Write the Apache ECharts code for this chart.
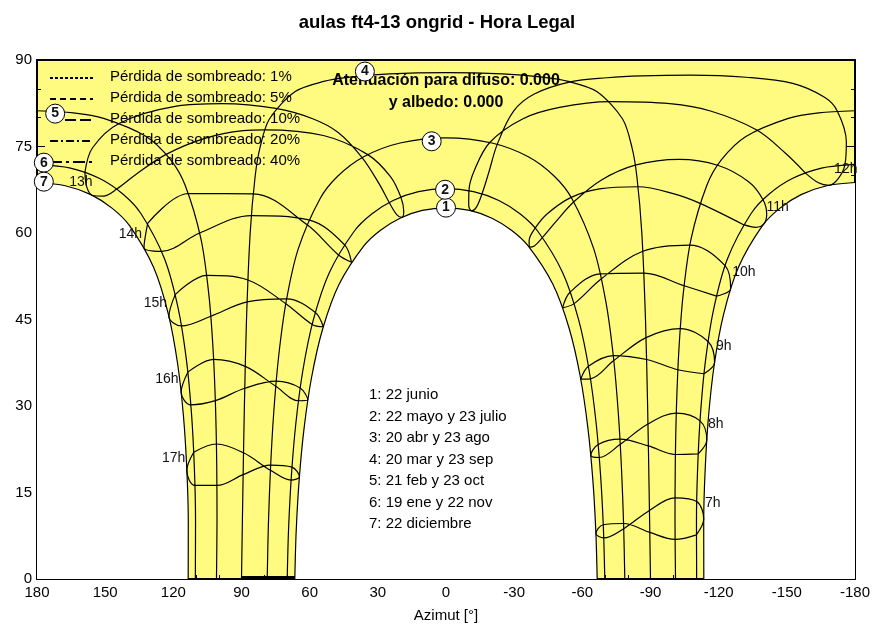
<!DOCTYPE html>
<html>
<head>
<meta charset="utf-8">
<script src="https://cdn.jsdelivr.net/npm/echarts@6/dist/echarts.min.js"></script>
<style>
html, body { margin: 0; padding: 0; background: #fff; }
#main { width: 874px; height: 628px; }
</style>
</head>
<body>
<div id="main"></div>
<script>
// trayectorias del sol (azimut, altura) para las 7 fechas
var sunPath1 = [[66.54,0],[65.93,8.28],[64.59,17.36],[62.41,26.30],[59.13,35.03],[54.25,43.40],[46.99,51.14],[36.08,57.80],[28.81,60.49],[20.23,62.57],[10.44,63.91],[0,64.36],
  [-10.44,63.91],[-20.23,62.57],[-28.81,60.49],[-36.08,57.80],[-46.99,51.14],[-54.25,43.40],[-59.13,35.03],[-62.41,26.30],[-64.59,17.36],[-65.93,8.28],[-66.54,0]];
var sunPath2 = [[69.88,0],[69.29,8.61],[68.04,17.93],[66.04,27.13],[63.0,36.16],[58.42,44.89],[51.41,53.08],[40.40,60.30],[32.70,63.29],[23.27,65.64],[12.13,67.18],[0,67.7],
  [-12.13,67.18],[-23.27,65.64],[-32.70,63.29],[-40.40,60.30],[-51.41,53.08],[-58.42,44.89],[-63.0,36.16],[-66.04,27.13],[-68.04,17.93],[-69.29,8.61],[-69.88,0]];
var sunPath3 = [[78.69,0],[78.17,9.36],[77.24,19.12],[75.82,28.84],[73.68,38.49],[70.39,48.0],[65.03,57.24],[55.44,65.95],[47.57,69.89],[36.21,73.23],[20.22,75.61],[0,76.5],
  [-20.22,75.61],[-36.21,73.23],[-47.57,69.89],[-55.44,65.95],[-65.03,57.24],[-70.39,48.0],[-73.68,38.49],[-75.82,28.84],[-77.24,19.12],[-78.17,9.36],[-78.69,0]];
var sunPath4 = [[90,0],[89.41,14.99],[88.73,29.98],[87.8,44.96],[86.19,59.93],[83.98,69.88],[81.83,74.86],[77.72,79.76],[66.35,84.53],[53.8,86.28],[42.4,87.02],[24.8,87.58],[0,87.8],
  [-24.8,87.58],[-42.4,87.02],[-53.8,86.28],[-66.35,84.53],[-77.72,79.76],[-81.83,74.86],[-83.98,69.88],[-86.19,59.93],[-87.8,44.96],[-88.73,29.98],[-89.41,14.99],[-90,0]];
var sunPath5W = [[180,81.2],[164.06,80.84],[150.66,79.88],[131.98,76.73],[121.25,72.71],[114.81,68.27],[107.85,58.96],[104.38,49.35],[102.48,39.63],[101.43,29.85],[100.91,20.05],[100.78,10.23],[101.01,0]];
var sunPath5E = [[-180,81.2],[-164.06,80.84],[-150.66,79.88],[-131.98,76.73],[-121.25,72.71],[-114.81,68.27],[-107.85,58.96],[-104.38,49.35],[-102.48,39.63],[-101.43,29.85],[-100.91,20.05],[-100.78,10.23],[-101.01,0]];
var sunPath6W = [[180,71.9],[165.25,71.26],[152.40,69.44],[142.11,66.72],[134.28,63.38],[123.93,55.58],[117.89,46.99],[114.24,38.01],[112.03,28.81],[110.77,19.50],[110.23,10.14],[110.31,0]];
var sunPath6E = [[-180,71.9],[-165.25,71.26],[-152.40,69.44],[-142.11,66.72],[-134.28,63.38],[-123.93,55.58],[-117.89,46.99],[-114.24,38.01],[-112.03,28.81],[-110.77,19.50],[-110.23,10.14],[-110.31,0]];
var sunPath7W = [[180,68.76],[167.57,68.20],[156.27,66.65],[146.86,64.27],[139.27,61.27],[128.66,54.02],[122.14,45.86],[118.07,37.20],[115.55,28.27],[114.09,19.20],[113.42,10.05],[113.46,0]];
var sunPath7E = [[-180,68.76],[-167.57,68.20],[-156.27,66.65],[-146.86,64.27],[-139.27,61.27],[-128.66,54.02],[-122.14,45.86],[-118.07,37.20],[-115.55,28.27],[-114.09,19.20],[-113.42,10.05],[-113.46,0]];

// lineas horarias (analemas), de enero a diciembre
var loop07 = [[-110.19,7.66],[-100.82,6.87],[-89.69,8.09],[-78.15,9.62],[-69.21,9.41],[-65.97,7.88],[-69.43,7.12],[-78.22,8.73],[-89.54,11.89],[-100.79,14.06],[-110.35,13.42],[-113.43,10.41],[-110.19,7.66]];
var loop08 = [[-111.0,21.70],[-100.96,21.59],[-89.06,23.08],[-76.57,24.25],[-66.97,23.33],[-63.71,21.47],[-67.46,21.07],[-76.69,23.36],[-88.88,26.88],[-101.35,28.77],[-111.79,27.42],[-114.77,24.11],[-111.0,21.70]];
var loop09 = [[-113.54,35.59],[-102.04,36.28],[-88.28,38.07],[-73.61,38.75],[-62.68,36.90],[-59.30,34.66],[-63.57,34.72],[-73.84,37.88],[-88.03,41.86],[-103.09,43.43],[-115.32,41.18],[-118.20,37.55],[-113.54,35.59]];
var loop10 = [[-119.04,49.06],[-104.79,50.86],[-87.07,53.04],[-67.92,52.92],[-54.69,49.77],[-51.30,47.03],[-56.37,47.75],[-68.40,52.07],[-86.63,56.84],[-107.35,57.90],[-122.81,54.33],[-125.28,50.35],[-119.04,49.06]];
var loop11 = [[-130.95,61.44],[-111.79,65.14],[-100.38,66.78],[-84.54,68.02],[-67.53,67.66],[-55.08,66.18],[-44.71,63.38],[-39.22,60.84],[-36.58,58.68],[-36.64,57.55],[-38.68,57.71],[-42.51,59.24],[-48.27,61.93],[-56.27,65.41],[-68.27,69.16],[-83.30,71.76],[-102.57,72.76],[-119.56,71.74],[-133.18,68.89],[-139.53,65.78],[-141.14,63.27],[-139.82,61.53],[-136.37,60.99],[-130.95,61.44]];
var loop12 = [[-158.10,70.42],[-149.3,73.86],[-136.78,77.85],[-116.4,81.15],[-98.5,82.42],[-72.38,82.77],[-49.95,81.77],[-33.7,79.78],[-19.24,75.69],[-12.46,70.83],[-10.09,67.34],[-10.0,64.80],[-11.33,63.83],[-13.4,64.48],[-15.84,66.79],[-18.86,70.54],[-22.55,75.37],[-29.75,81.13],[-38.85,84.09],[-54.68,86.20],[-71.0,86.92],[-85.9,87.24],[-107.7,87.37],[-132.0,87.01],[-152.6,85.94],[-166.6,83.53],[-172.25,81.12],[-176.2,75.77],[-175.57,71.85],[-172.62,69.42],[-168.57,68.27],[-163.9,68.71],[-158.10,70.42]];
var loop13 = [[158.91,70.54],[155.55,74.78],[143.68,79.04],[119.2,81.95],[98.5,82.42],[74.91,81.60],[58.67,79.81],[47.45,77.42],[36.93,73.07],[29.34,68.47],[24.99,65.29],[21.7,63.20],[19.41,62.72],[18.6,63.76],[19.89,66.23],[24.36,69.73],[34.41,73.59],[53.95,76.91],[79.67,77.90],[89.3,77.75],[105.8,76.44],[123.15,73.63],[136.5,70.15],[144.91,67.61],[150.81,66.41],[155.49,66.50],[158.05,67.91],[158.91,70.54]];
var loop14 = [[131.30,61.66],[113.32,66.85],[84.86,66.80],[61.24,61.47],[47.45,56.24],[41.60,54.94],[44.72,57.99],[60.36,62.27],[85.67,63.02],[108.38,60.0],[125.14,56.83],[132.91,57.50],[131.30,61.66]];
var loop15 = [[119.20,49.31],[105.33,52.65],[87.20,51.85],[70.50,47.74],[58.89,44.15],[54.0,43.74],[57.50,46.23],[70.13,48.58],[87.55,48.05],[103.51,45.57],[116.40,43.88],[121.94,45.52],[119.20,49.31]];
var loop16 = [[113.62,35.87],[102.27,38.08],[88.35,36.87],[74.91,33.42],[64.92,30.91],[60.80,31.07],[64.17,33.12],[74.72,34.30],[88.57,33.07],[101.51,30.92],[112.29,30.20],[116.56,32.41],[113.62,35.87]];
var loop17 = [[111.03,21.98],[101.04,23.41],[89.12,21.88],[77.27,18.86],[68.17,17.14],[64.52,17.74],[67.78,19.41],[77.17,19.76],[89.28,18.09],[100.82,16.22],[110.51,16.23],[114.05,18.83],[111.03,21.98]];

// perdida de sombreado sobre el horizonte
var shadeLine = [[90,0.25],[66.5,0.25]];

// etiquetas
var pathMarks = [['1',0,64.4],['2',0.4,67.5],['3',6.3,75.9],['4',35.7,88.0],['5',172,80.7],['6',177,72.2],['7',177,68.9]];
var hourMarks = [['7h',-114,13.1],['8h',-115.3,26.9],['9h',-118.8,40.4],['10h',-126,53.2],['11h',-141,64.4],['12h',-170.8,71.0],
  ['13h',165.8,68.8],['14h',144,59.8],['15h',133,47.9],['16h',128,34.7],['17h',125,20.9]];
var dateNames = ['1: 22 junio','2: 22 mayo y 23 julio','3: 20 abr y 23 ago','4: 20 mar y 23 sep','5: 21 feb y 23 oct','6: 19 ene y 22 nov','7: 22 diciembre'];
var lossNames = ['Pérdida de sombreado: 1%','Pérdida de sombreado: 5%','Pérdida de sombreado: 10%','Pérdida de sombreado: 20%','Pérdida de sombreado: 40%'];
var lossDashes = [[3,2],[6,4],[11,4],[8,3,2,3],[12,4,3,4]];

var FONT = 'Liberation Sans, Arial, sans-serif';
var chart = echarts.init(document.getElementById('main'));

function curve(data, extra) {
  var s = {
    type: 'line', data: data, symbol: 'none', showSymbol: false, smooth: 0.3,
    lineStyle: { color: '#000', width: 1.2 }, silent: true, animation: false, z: 3
  };
  for (var k in extra) s[k] = extra[k];
  return s;
}
var white = { color: '#fff', opacity: 1 };

var series = [
  curve(sunPath1, { areaStyle: white, z: 2 }),
  curve(sunPath7W, { areaStyle: white, z: 2 }),
  curve(sunPath7E, { areaStyle: white, z: 2 }),
  curve(sunPath2), curve(sunPath3), curve(sunPath4),
  curve(sunPath5W), curve(sunPath5E), curve(sunPath6W), curve(sunPath6E)
];
[loop07, loop08, loop09, loop10, loop11, loop12, loop13, loop14, loop15, loop16, loop17].forEach(function (l) {
  series.push(curve(l, { smooth: 0.35 }));
});
series.push(curve(shadeLine, { smooth: false, lineStyle: { color: '#000', width: 3 } }));

series.push({
  type: 'scatter', silent: true, animation: false, z: 20,
  symbol: 'circle', symbolSize: 19,
  itemStyle: { color: '#fff', borderColor: '#000', borderWidth: 1, opacity: 1 },
  label: { show: true, position: 'inside', formatter: function (p) { return p.data[2]; },
    fontSize: 14, fontWeight: 'bold', color: '#111', fontFamily: FONT },
  data: pathMarks.map(function (m) { return [m[1], m[2], m[0]]; })
});
series.push({
  type: 'scatter', silent: true, animation: false, z: 20,
  symbolSize: 0,
  itemStyle: { color: '#000', opacity: 1 },
  label: { show: true, position: 'right', distance: 0, formatter: function (p) { return p.data[2]; },
    fontSize: 14, color: '#111', opacity: 1, fontFamily: FONT },
  data: hourMarks.map(function (m) { return [m[1], m[2], m[0]]; })
});

var graphics = [];
lossNames.forEach(function (t, i) {
  var y = 77 + i * 21;
  graphics.push({ type: 'line', z: 10, shape: { x1: 50, y1: y + 1, x2: 93, y2: y + 1 },
    style: { stroke: '#000', lineWidth: 2, lineDash: lossDashes[i] } });
  graphics.push({ type: 'text', z: 10, style: { text: t, x: 110, y: y, fill: '#000',
    font: '15px ' + FONT, textVerticalAlign: 'middle', verticalAlign: 'middle' } });
});
dateNames.forEach(function (t, i) {
  graphics.push({ type: 'text', z: 10, style: { text: t, x: 369, y: 395 + i * 21.5, fill: '#000',
    font: '15px ' + FONT, textVerticalAlign: 'middle', verticalAlign: 'middle' } });
});
graphics.push({ type: 'text', z: 10, style: { text: 'Atenuación para difuso: 0.000', x: 446, y: 81, fill: '#000',
  font: 'bold 16px ' + FONT, textAlign: 'center', align: 'center', textVerticalAlign: 'middle', verticalAlign: 'middle' } });
graphics.push({ type: 'text', z: 10, style: { text: 'y albedo: 0.000', x: 446, y: 103, fill: '#000',
  font: 'bold 16px ' + FONT, textAlign: 'center', align: 'center', textVerticalAlign: 'middle', verticalAlign: 'middle' } });

var tick = { show: true, inside: true, length: 8, lineStyle: { color: '#000', width: 1 } };
var minor = { show: true, splitNumber: 3, length: 4, lineStyle: { color: '#000', width: 1 } };
var frame = { show: true, onZero: false, lineStyle: { color: '#000', width: 2 } };

chart.setOption({
  animation: false,
  textStyle: { fontFamily: FONT },
  title: { text: 'aulas ft4-13 ongrid - Hora Legal', left: 'center', top: 8,
    textStyle: { fontSize: 18.5, fontWeight: 'bold', color: '#000', fontFamily: FONT } },
  grid: { left: 37, right: 19, top: 60, bottom: 47, show: true, backgroundColor: '#fffb80', borderWidth: 0 },
  xAxis: [
    { type: 'value', min: -180, max: 180, interval: 30, inverse: true, position: 'bottom',
      axisLine: frame, axisTick: tick, minorTick: minor, splitLine: { show: false },
      axisLabel: { color: '#000', fontSize: 15, margin: 6, showMinLabel: true, showMaxLabel: true },
      name: 'Azimut [°]', nameLocation: 'middle', nameGap: 29,
      nameTextStyle: { color: '#000', fontSize: 15, fontFamily: FONT } },
    { type: 'value', min: -180, max: 180, interval: 30, inverse: true, position: 'top',
      axisLine: frame, axisTick: { show: false }, axisLabel: { show: false }, splitLine: { show: false } }
  ],
  yAxis: [
    { type: 'value', min: 0, max: 90, interval: 15, position: 'left',
      axisLine: frame, axisTick: tick, minorTick: minor, splitLine: { show: false },
      axisLabel: { color: '#000', fontSize: 15, margin: 5 } },
    { type: 'value', min: 0, max: 90, interval: 15, position: 'right',
      axisLine: frame, axisTick: tick, minorTick: minor, splitLine: { show: false },
      axisLabel: { show: false } }
  ],
  graphic: graphics,
  series: series
});
</script>
</body>
</html>
